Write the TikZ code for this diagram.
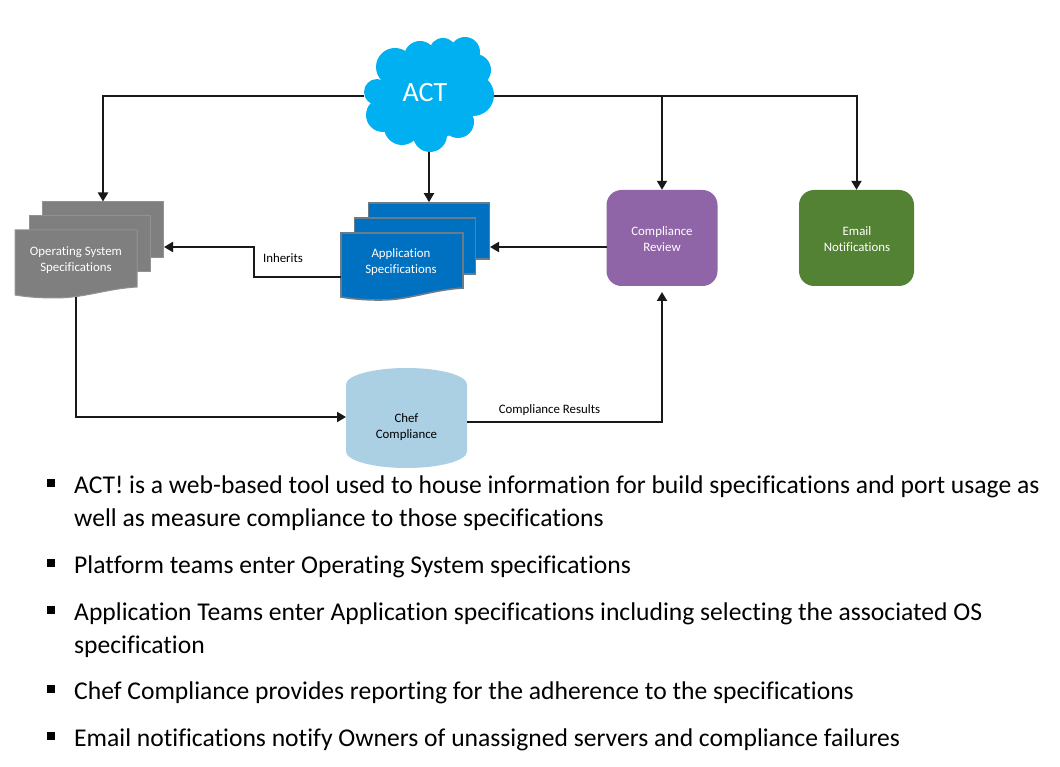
\documentclass[tikz,border=0pt]{standalone}
\usepackage{fontspec}
\setmainfont{Carlito}[Ligatures=NoCommon]
\usetikzlibrary{shapes,shapes.geometric,arrows.meta}
\definecolor{actblue}{HTML}{00B0F0}
\definecolor{appblue}{HTML}{0070C0}
\definecolor{appedge}{HTML}{6B7B88}
\definecolor{osgray}{HTML}{7F7F7F}
\definecolor{reviewpurple}{HTML}{8F65A8}
\definecolor{emailgreen}{HTML}{548235}
\definecolor{chefblue}{HTML}{ABD0E4}
\tikzset{
  flowline/.style={line width=2pt,draw=black!90,-{Triangle[length=9pt,width=10pt]}},
  ossheet/.style={rectangle,fill=osgray,draw=osgray!85!white,line width=1pt,minimum width=121pt,minimum height=56pt,inner sep=0pt},
  appsheet/.style={rectangle,fill=appblue,draw=appedge,line width=1.6pt,minimum width=121pt,minimum height=56pt,inner sep=0pt},
  boxtext/.style={font=\fontsize{12.85}{16}\selectfont,align=center,inner sep=0pt},
  taskbox/.style={rectangle,rounded corners=15pt,minimum width=111pt,minimum height=96pt,inner sep=0pt},
  linelabel/.style={font=\fontsize{12.85}{16}\selectfont,inner sep=0pt,text=black},
  bulletmark/.style={rectangle,fill=black,minimum size=8pt,inner sep=0pt},
  bullettext/.style={anchor=north west,align=left,inner sep=0pt,text=black,font=\fontsize{25.6}{33}\selectfont}
}
\begin{document}
\begin{tikzpicture}[x=1pt,y=-1pt]
  \useasboundingbox (0,0) rectangle (1060,767);
  \foreach \cx/\cy/\r in {465/52/15,443/52/14,420/57/16,395/67/19,377/92/13,383/115/17,402/127/18,430/135/17,458/122/16,473/95/21,475/70/16,427/95/46}
    \fill[actblue] (\cx,\cy) circle[radius=\r pt];
  \node[rectangle,minimum width=130pt,minimum height=112pt,inner sep=0pt] (act) at (429,96) {};
  \node[text=white,inner sep=0pt,font=\fontsize{28}{32}\selectfont] (acttext) at (425,93) {ACT};

  \node[ossheet] (osback) at (103,230) {};
  \node[ossheet] (osmiddle) at (90,244) {};
  \path[fill=osgray,draw=osgray!85!white,line width=1pt] (15,230) -- (137,230) -- (137,287) .. controls (105,289) and (85,298) .. (55,298) .. controls (40,298) and (27,297) .. (15,295) -- cycle;
  \node[boxtext,text=white] (osfront) at (76,260.5) {Operating System\\Specifications};

  \node[appsheet] (appback) at (429,231) {};
  \node[appsheet] (appmiddle) at (415,246) {};
  \path[fill=appblue,draw=appedge,line width=1.6pt] (341,233) -- (463,233) -- (463,288) .. controls (430,290) and (410,300) .. (380,300) .. controls (365,300) and (353,299) .. (341,297) -- cycle;
  \node[boxtext,text=white] (appfront) at (401,262.5) {Application\\Specifications};

  \node[taskbox,fill=reviewpurple] (review) at (662,238) {};
  \node[boxtext,text=white] (reviewtext) at (662,239.5) {Compliance\\Review};
  \node[taskbox,fill=emailgreen,minimum width=115pt] (email) at (856.5,238) {};
  \node[boxtext,text=white] (emailtext) at (857,239.5) {Email\\Notifications};

  \path[fill=chefblue] (346,384.5) arc[start angle=180,end angle=0,x radius=60.5pt,y radius=16.5pt] -- (467,451.5) arc[start angle=360,end angle=180,x radius=60.5pt,y radius=16.5pt] -- cycle;
  \node[boxtext,text=black] (chef) at (406.5,427.5) {Chef\\Compliance};

  \coordinate (osin) at (164,247);
  \coordinate (osout) at (76,297);
  \coordinate (appin) at (490,247);
  \coordinate (appout) at (341,277);
  \coordinate (reviewout) at (607,247);
  \coordinate (reviewin) at (662,292);
  \coordinate (chefin) at (346,417);
  \coordinate (chefout) at (467,422);

  \draw[flowline] (act.west) -| (osback.north);
  \draw[flowline] (act.south) -- (appback.north);
  \draw[flowline] (act.east) -| (review.north);
  \draw[flowline] (act.east) -| (email.north);
  \draw[flowline] (reviewout) -- (appin);
  \draw[flowline] (appout) -| (254,247) -- (osin);
  \draw[flowline] (osout) |- (chefin);
  \draw[flowline] (chefout) -| (reviewin);

  \node[linelabel] (inherits) at (283,258) {Inherits};
  \node[linelabel] (results) at (549.5,410) {Compliance Results};

  \foreach \y/\n in {482.5/a,562.5/b,609.5/c,688.5/d,735.5/e}
    \node[bulletmark] (mark\n) at (51,\y) {};
  \node[bullettext] (texta) at (74,475.3) {ACT! is a web-based tool used to house information for build specifications and port usage as\\well as measure compliance to those specifications};
  \node[bullettext] (textb) at (74,555.3) {Platform teams enter Operating System specifications};
  \node[bullettext] (textc) at (74,602.3) {Application Teams enter Application specifications including selecting the associated OS\\specification};
  \node[bullettext] (textd) at (74,681.3) {Chef Compliance provides reporting for the adherence to the specifications};
  \node[bullettext] (texte) at (74,728.3) {Email notifications notify Owners of unassigned servers and compliance failures};
\end{tikzpicture}
\end{document}
